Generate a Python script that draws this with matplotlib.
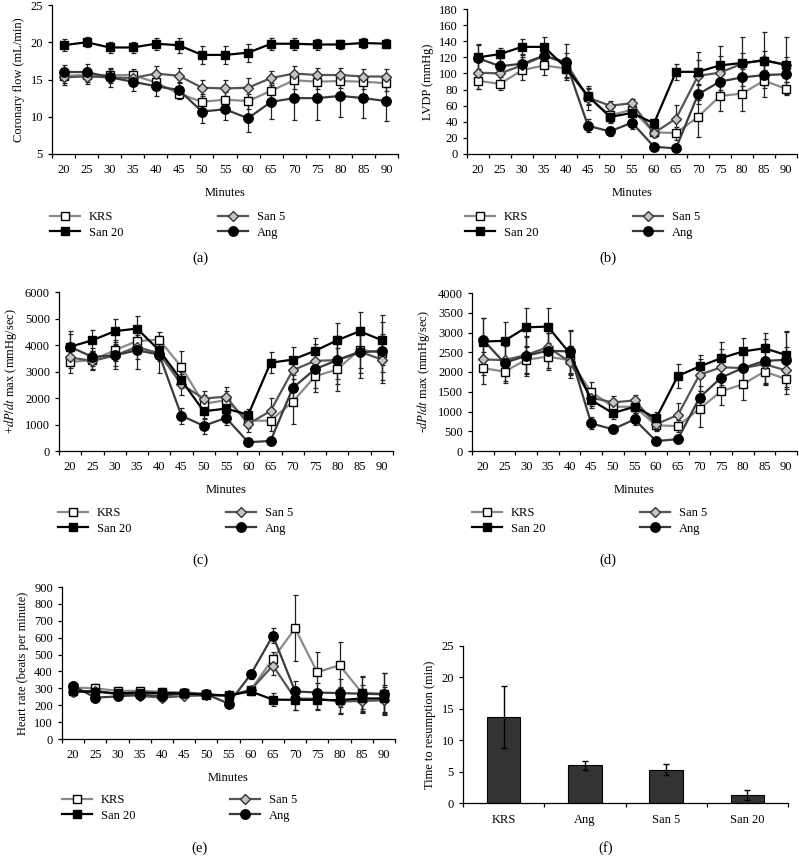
import numpy as np
import matplotlib
matplotlib.use("Agg")
import matplotlib.pyplot as plt

plt.rcParams['font.family'] = ['Liberation Serif', 'DejaVu Serif']
plt.rcParams['mathtext.fontset'] = 'stix'
plt.rcParams['font.size'] = 9

minutes = [20, 25, 30, 35, 40, 45, 50, 55, 60, 65, 70, 75, 80, 85, 90]
groups = ["KRS", "San 20", "San 5", "Ang"]

# (a) coronary flow (mL/min)
cf_krs = [15.5, 15.6, 15.6, 15.6, 14.6, 13.1, 12.0, 12.3, 12.1, 13.5, 14.9, 14.7, 14.8, 14.7, 14.5]
cf_san20 = [19.6, 20.0, 19.3, 19.3, 19.8, 19.6, 18.3, 18.3, 18.6, 19.8, 19.8, 19.7, 19.7, 19.9, 19.8]
cf_san5 = [15.3, 15.4, 15.3, 15.2, 15.8, 15.5, 13.9, 13.8, 13.9, 15.2, 15.8, 15.6, 15.6, 15.4, 15.4]
cf_ang = [16.0, 16.0, 15.3, 14.7, 14.1, 13.6, 10.7, 11.0, 9.8, 12.0, 12.5, 12.5, 12.8, 12.5, 12.1]
cf_krs_err = [1.0, 1.0, 0.8, 0.8, 1.0, 0.7, 1.0, 1.0, 1.0, 1.0, 1.2, 1.0, 1.0, 1.0, 1.0]
cf_san20_err = [0.8, 0.7, 0.8, 0.8, 0.8, 1.0, 1.2, 1.2, 1.2, 0.8, 0.8, 0.7, 0.6, 0.7, 0.6]
cf_san5_err = [1.0, 1.0, 0.8, 0.8, 1.0, 1.0, 1.1, 1.2, 1.3, 1.0, 1.0, 1.0, 1.0, 1.0, 1.0]
cf_ang_err = [1.0, 1.1, 1.3, 1.2, 1.3, 1.0, 1.6, 1.5, 1.8, 2.3, 2.9, 2.9, 2.8, 2.7, 2.7]

# (b) LVDP (mmHg)
lv_krs = [91, 87, 104, 110, 106, 71, 48, 55, 27, 26, 46, 72, 75, 91, 81]
lv_san20 = [120, 124, 133, 133, 107, 72, 46, 51, 38, 102, 102, 110, 113, 116, 111]
lv_san5 = [101, 100, 110, 122, 113, 70, 60, 63, 26, 44, 97, 101, 112, 117, 110]
lv_ang = [119, 109, 112, 122, 114, 35, 28, 39, 9, 7, 74, 90, 95, 98, 99]
lv_krs_err = [10, 8, 12, 12, 12, 10, 8, 8, 6, 8, 25, 18, 22, 20, 8]
lv_san20_err = [15, 8, 10, 12, 12, 10, 8, 8, 5, 10, 15, 12, 12, 12, 10]
lv_san5_err = [20, 10, 10, 10, 12, 15, 6, 5, 5, 17, 30, 33, 33, 35, 35]
lv_ang_err = [18, 10, 12, 10, 22, 8, 6, 8, 3, 3, 12, 10, 10, 12, 10]

# (c) +dP/dt max (mmHg/sec)
pd_krs = [3360, 3430, 3800, 4150, 4200, 3170, 1780, 1920, 1150, 1140, 1860, 2820, 3080, 3830, 3700]
pd_san20 = [3930, 4180, 4520, 4620, 3800, 2670, 1500, 1600, 1370, 3330, 3450, 3780, 4180, 4520, 4180]
pd_san5 = [3530, 3400, 3600, 3930, 3680, 2510, 1980, 2050, 1020, 1510, 3050, 3400, 3430, 3750, 3450]
pd_ang = [3930, 3550, 3610, 3800, 3640, 1330, 950, 1250, 330, 380, 2380, 3090, 3430, 3720, 3780]
pd_krs_err = [400, 350, 400, 450, 300, 600, 350, 350, 300, 400, 850, 600, 800, 700, 700]
pd_san20_err = [580, 400, 480, 480, 300, 300, 300, 250, 200, 400, 480, 500, 650, 730, 950]
pd_san5_err = [400, 350, 400, 450, 300, 400, 300, 350, 300, 480, 500, 650, 700, 800, 900]
pd_ang_err = [500, 350, 500, 700, 700, 300, 300, 250, 100, 100, 500, 700, 900, 950, 1100]

# (d) -dP/dt max (mmHg/sec)
nd_krs = [2100, 2010, 2310, 2390, 2300, 1500, 1120, 1120, 650, 630, 1070, 1510, 1690, 2010, 1820]
nd_san20 = [2770, 2790, 3130, 3150, 2480, 1290, 960, 1120, 830, 1900, 2140, 2350, 2520, 2600, 2430]
nd_san5 = [2320, 2300, 2430, 2630, 2260, 1350, 1230, 1280, 680, 910, 1930, 2120, 2100, 2200, 2040]
nd_ang = [2820, 2230, 2410, 2540, 2520, 700, 550, 800, 250, 300, 1350, 1860, 2100, 2280, 2310]
nd_krs_err = [400, 300, 350, 350, 350, 250, 200, 200, 150, 150, 450, 350, 400, 350, 250]
nd_san20_err = [600, 480, 500, 480, 550, 200, 150, 150, 150, 300, 300, 400, 350, 400, 600]
nd_san5_err = [400, 350, 450, 350, 400, 200, 150, 150, 150, 300, 400, 450, 500, 500, 600]
nd_ang_err = [550, 450, 500, 450, 550, 150, 100, 150, 80, 80, 300, 400, 450, 550, 700]

# (e) heart rate (beats per minute)
hr_krs = [305, 300, 285, 285, 280, 275, 268, 255, 290, 475, 655, 395, 437, 275, 268]
hr_san20 = [282, 280, 270, 275, 272, 270, 262, 258, 282, 233, 232, 232, 230, 240, 240]
hr_san5 = [280, 285, 265, 255, 245, 255, 258, 258, 290, 435, 240, 238, 222, 225, 230]
hr_ang = [315, 245, 252, 262, 255, 272, 265, 210, 382, 612, 282, 275, 272, 268, 265]
hr_krs_err = [30, 25, 20, 20, 20, 20, 15, 15, 20, 40, 195, 120, 135, 100, 120]
hr_san20_err = [25, 20, 20, 20, 20, 15, 15, 15, 20, 40, 60, 60, 80, 80, 80]
hr_san5_err = [20, 20, 20, 20, 20, 15, 15, 15, 25, 55, 70, 60, 70, 70, 75]
hr_ang_err = [20, 20, 20, 20, 20, 15, 15, 15, 25, 45, 60, 55, 85, 100, 125]

# (f) time to resumption (min)
bar_groups = ["KRS", "Ang", "San 5", "San 20"]
bar_vals = [13.7, 6.0, 5.3, 1.3]
bar_err = [4.9, 0.7, 0.9, 0.8]

styles = {
    "KRS": dict(color="#8a8a8a", marker="s", mfc="white", mec="black", ms=6.2),
    "San 20": dict(color="black", marker="s", mfc="black", mec="black", ms=6.2),
    "San 5": dict(color="#555555", marker="D", mfc="#c4c4c4", mec="#333333", ms=4.6),
    "Ang": dict(color="#3a3a3a", marker="o", mfc="black", mec="black", ms=6.8),
}


def px_axes(fig, left, top, right, bottom):
    W, H = fig.get_size_inches() * fig.dpi
    return fig.add_axes([left / W, 1 - bottom / H, (right - left) / W, (bottom - top) / H])


def style_axis(ax):
    ax.tick_params(axis="y", length=3, width=0.9, direction="out")
    for s in ["top", "right"]:
        ax.spines[s].set_visible(False)
    for s in ["left", "bottom"]:
        ax.spines[s].set_linewidth(0.9)


def line_panel(fig, box, series, errs, ylim, yticks, ylabel, leg_xy):
    ax = px_axes(fig, *box)
    lines = {}
    # draw order so black markers sit on top
    for g in ["KRS", "San 5", "Ang", "San 20"]:
        st = styles[g]
        ax.errorbar(minutes, series[g], yerr=errs[g], fmt="none", ecolor="#222222",
                    elinewidth=0.9, capsize=1.8, capthick=0.9, zorder=2)
        ln, = ax.plot(minutes, series[g], color=st["color"], lw=1.6, marker=st["marker"],
                      mfc=st["mfc"], mec=st["mec"], ms=st["ms"], mew=1.0, zorder=3, label=g)
        lines[g] = ln
    ax.set_xlim(17.5, 92.5)
    ax.set_xticks(minutes)
    ax.set_xticks(np.arange(17.5, 93, 5), minor=True)
    ax.tick_params(axis="x", which="major", length=0, pad=7)
    ax.tick_params(axis="x", which="minor", length=3, direction="out", width=0.9)
    ax.set_ylim(*ylim)
    ax.set_yticks(yticks)
    style_axis(ax)
    ax.set_xlabel("Minutes", labelpad=8)
    ax.set_ylabel(ylabel)
    handles = [lines[g] for g in groups]
    fig.legend(handles, groups, loc="upper left",
               bbox_to_anchor=(leg_xy[0] / 799, 1 - leg_xy[1] / 856), ncol=2, frameon=False,
               handlelength=2.4, columnspacing=7.6, labelspacing=0.3, handletextpad=0.7,
               borderaxespad=0, borderpad=0)
    return ax


fig = plt.figure(figsize=(7.99, 8.56), dpi=100)

line_panel(fig, (52, 5, 398, 154),
           {"KRS": cf_krs, "San 20": cf_san20, "San 5": cf_san5, "Ang": cf_ang},
           {"KRS": cf_krs_err, "San 20": cf_san20_err, "San 5": cf_san5_err, "Ang": cf_ang_err},
           (5, 25), [5, 10, 15, 20, 25], "Coronary flow (mL/min)", (50, 211))
line_panel(fig, (467, 9, 797, 154),
           {"KRS": lv_krs, "San 20": lv_san20, "San 5": lv_san5, "Ang": lv_ang},
           {"KRS": lv_krs_err, "San 20": lv_san20_err, "San 5": lv_san5_err, "Ang": lv_ang_err},
           (0, 180), list(range(0, 181, 20)), "LVDP (mmHg)", (465, 211))
line_panel(fig, (59, 292, 393, 451),
           {"KRS": pd_krs, "San 20": pd_san20, "San 5": pd_san5, "Ang": pd_ang},
           {"KRS": pd_krs_err, "San 20": pd_san20_err, "San 5": pd_san5_err, "Ang": pd_ang_err},
           (0, 6000), list(range(0, 6001, 1000)), r"+$\mathit{dP/dt}$ max (mmHg/sec)", (58, 507))
line_panel(fig, (472, 293, 797, 451),
           {"KRS": nd_krs, "San 20": nd_san20, "San 5": nd_san5, "Ang": nd_ang},
           {"KRS": nd_krs_err, "San 20": nd_san20_err, "San 5": nd_san5_err, "Ang": nd_ang_err},
           (0, 4000), list(range(0, 4001, 500)), r"-$\mathit{dP/dt}$ max (mmHg/sec)", (472, 507))
line_panel(fig, (62, 587, 395, 739),
           {"KRS": hr_krs, "San 20": hr_san20, "San 5": hr_san5, "Ang": hr_ang},
           {"KRS": hr_krs_err, "San 20": hr_san20_err, "San 5": hr_san5_err, "Ang": hr_ang_err},
           (0, 900), list(range(0, 901, 100)), "Heart rate (beats per minute)", (62, 794))

# (f) bar chart
axf = px_axes(fig, 463, 646, 788, 803)
xb = np.arange(len(bar_groups))
axf.bar(xb, bar_vals, width=0.41, color="#333333", edgecolor="black", linewidth=0.8,
        yerr=bar_err, error_kw=dict(ecolor="black", elinewidth=1.0, capsize=2, capthick=1.0))
axf.set_xlim(-0.5, len(bar_groups) - 0.5)
axf.set_xticks(xb)
axf.set_xticklabels(bar_groups)
axf.set_xticks(np.arange(-0.5, len(bar_groups), 1), minor=True)
axf.tick_params(axis="x", which="major", length=0, pad=8)
axf.tick_params(axis="x", which="minor", length=3, direction="out", width=0.9)
axf.set_ylim(0, 25)
axf.set_yticks([0, 5, 10, 15, 20, 25])
style_axis(axf)
axf.set_ylabel("Time to resumption (min)")

# panel tags
for tag, x, y in [("(a)", 200, 258), ("(b)", 608, 258), ("(c)", 200, 560),
                  ("(d)", 608, 560), ("(e)", 200, 848), ("(f)", 606, 848)]:
    fig.text(x / 799, 1 - y / 856, tag, ha="center", va="center", fontsize=10.5)

fig.savefig("out.png", dpi=100)
